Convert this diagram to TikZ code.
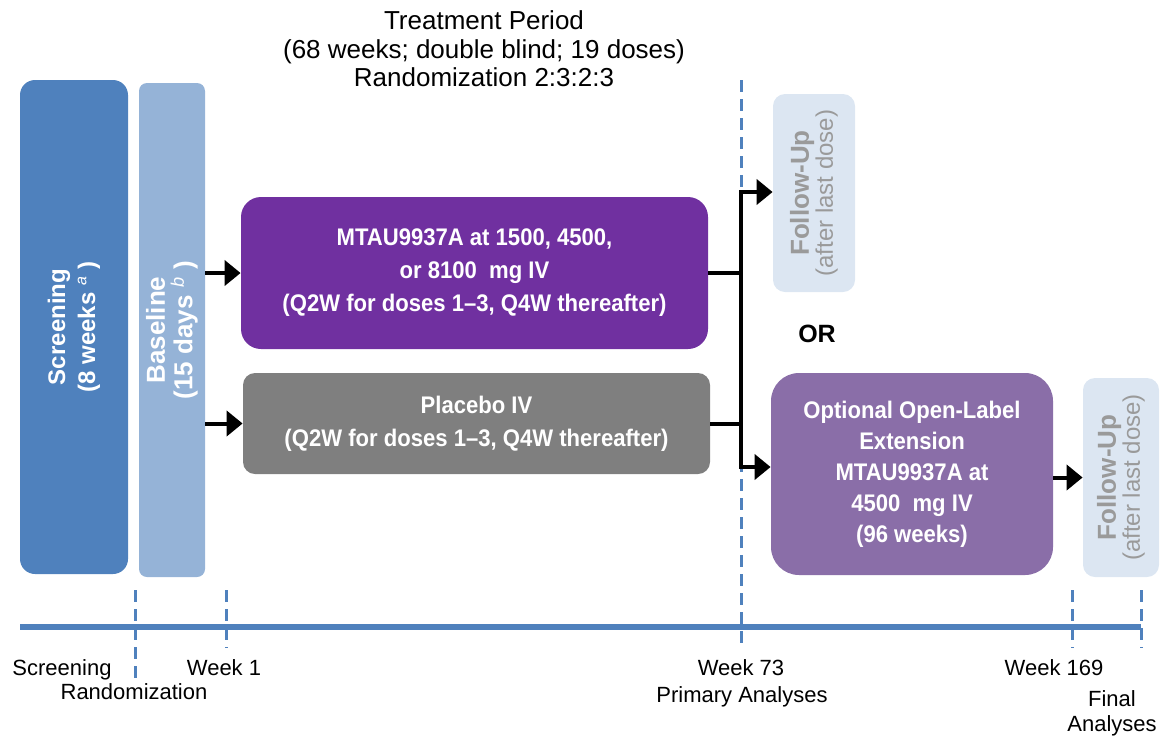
\documentclass[tikz,border=0pt]{standalone}
\usepackage{fontspec}
\setmainfont{Liberation Sans}
\newfontfamily\narrowfont{Liberation Sans}[FakeStretch=0.92]
\usetikzlibrary{arrows.meta}
\definecolor{scrblue}{HTML}{4F81BD}
\definecolor{baseblue}{HTML}{95B3D7}
\definecolor{mtaupurple}{HTML}{7030A0}
\definecolor{placebogray}{HTML}{7F7F7F}
\definecolor{olepurple}{HTML}{8A6EA8}
\definecolor{fufill}{HTML}{DCE6F2}
\definecolor{futext}{HTML}{9A9A9A}
\definecolor{tlblue}{HTML}{4F81BD}
\tikzset{
  box/.style={draw=none, text=white, align=center, inner sep=0pt},
  boxtext/.style={font=\narrowfont\bfseries\fontsize{12pt}{16.5pt}\selectfont},
  fubox/.style={box, fill=fufill, text=futext, rotate=90, rounded corners=6pt},
  arr/.style={line width=2pt, -{Triangle[length=8pt,width=12.5pt]}},
  conn/.style={line width=2pt},
  tick/.style={draw=tlblue, line width=1.5pt, dash pattern=on 6pt off 3.5pt},
  lbl/.style={anchor=base, inner sep=0pt, font=\fontsize{11pt}{13pt}\selectfont},
  ttl/.style={anchor=base, inner sep=0pt, font=\fontsize{13pt}{14pt}\selectfont}
}
\begin{document}
\begin{tikzpicture}[x=0.5pt,y=-0.5pt]
\useasboundingbox (0,0) rectangle (1161,740);

% title
\node[ttl] (t1) at (484,29) {Treatment Period};
\node[ttl] (t2) at (484,58) {(68 weeks; double blind; 19 doses)};
\node[ttl] (t3) at (484,86) {Randomization 2:3:2:3};

% dashed primary line
\coordinate (dtop) at (741,80);
\coordinate (dbot) at (741,648);
\draw[tick] (dtop) -- (dbot);

% boxes
\node[box, fill=scrblue, rotate=90, rounded corners=7.5pt, minimum width=247pt, minimum height=54pt,
      font=\bfseries\fontsize{12pt}{15pt}\selectfont] (scr) at (74,327)
      {Screening\\(8 weeks \textsuperscript{\mdseries\itshape a} )};
\node[box, fill=baseblue, rotate=90, rounded corners=4pt, minimum width=247pt, minimum height=33pt,
      font=\bfseries\fontsize{13pt}{13.75pt}\selectfont] (base) at (172,330)
      {Baseline\\(15 days \textsuperscript{\mdseries\itshape b} )};

\node[box, boxtext, fill=mtaupurple, rounded corners=10pt, minimum width=233.5pt, minimum height=76pt] (mtau) at (474.5,273)
      {MTAU9937A at 1500, 4500,\\or 8100\ \ mg IV\\(Q2W for doses 1–3, Q4W thereafter)};
\node[box, boxtext, fill=placebogray, rounded corners=6pt, minimum width=233.5pt, minimum height=50.5pt] (plac) at (476.5,423.5)
      {Placebo IV\\(Q2W for doses 1–3, Q4W thereafter)};

\node[fubox, minimum width=99pt, minimum height=41pt] (fu1) at (814,193)
      {{\bfseries\fontsize{13pt}{14.5pt}\selectfont Follow-Up}\\{\fontsize{12pt}{14.5pt}\selectfont (after last dose)}};
\node[box, boxtext, fill=olepurple, rounded corners=14pt, minimum width=141pt, minimum height=101pt,
      font=\narrowfont\bfseries\fontsize{12pt}{15.5pt}\selectfont] (ole) at (912,474)
      {Optional Open-Label\\Extension\\MTAU9937A at\\4500\ \ mg IV\\(96 weeks)};
\node[fubox, minimum width=99.5pt, minimum height=38pt] (fu2) at (1121,477.5)
      {{\bfseries\fontsize{13pt}{14.5pt}\selectfont Follow-Up}\\{\fontsize{12pt}{14.5pt}\selectfont (after last dose)}};

\node[inner sep=0pt, font=\bfseries\fontsize{12.5pt}{15pt}\selectfont] (or) at (817,334) {OR};

% connectors
\draw[arr] (base.south |- mtau) -- (mtau.west);
\draw[arr] (base.south |- plac) -- (plac.west);
\coordinate (jt) at (741,192);
\coordinate (jb) at (741,467);
\draw[conn] (mtau.east) -- (mtau.east -| jt);
\draw[conn] (plac.east) -- (plac.east -| jt);
\draw[arr] (jb) -- (jt) -- (fu1.north |- jt);
\draw[arr] (jt) -- (jb) -- (ole.west |- jb);
\draw[arr] (ole.east |- fu2) -- (fu2.north);

% timeline
\coordinate (tl0) at (20,627);
\coordinate (tl1) at (1141,627);
\draw[draw=tlblue, line width=3pt] (tl0) -- (tl1);
\coordinate (r0) at (135,590); \coordinate (r1) at (135,680);
\coordinate (w0) at (226,590); \coordinate (w1) at (226,648);
\coordinate (k0) at (1072,590); \coordinate (k1) at (1072,648);
\coordinate (f0) at (1141,590); \coordinate (f1) at (1141,648);
\draw[tick] (r0) -- (r1);
\draw[tick] (w0) -- (w1);
\draw[tick] (k0) -- (k1);
\draw[tick] (f0) -- (f1);

\node[lbl] (lscr) at (62,675) {Screening};
\node[lbl] (lrand) at (134,699) {Randomization};
\node[lbl] (lw1) at (224,675) {Week 1};
\node[lbl] (lw73) at (741,675) {Week 73};
\node[lbl] (lprim) at (742,702) {Primary Analyses};
\node[lbl] (lw169) at (1054,675) {Week 169};
\node[lbl] (lfin) at (1112,706) {Final};
\node[lbl] (lana) at (1112,731) {Analyses};
\end{tikzpicture}
\end{document}
